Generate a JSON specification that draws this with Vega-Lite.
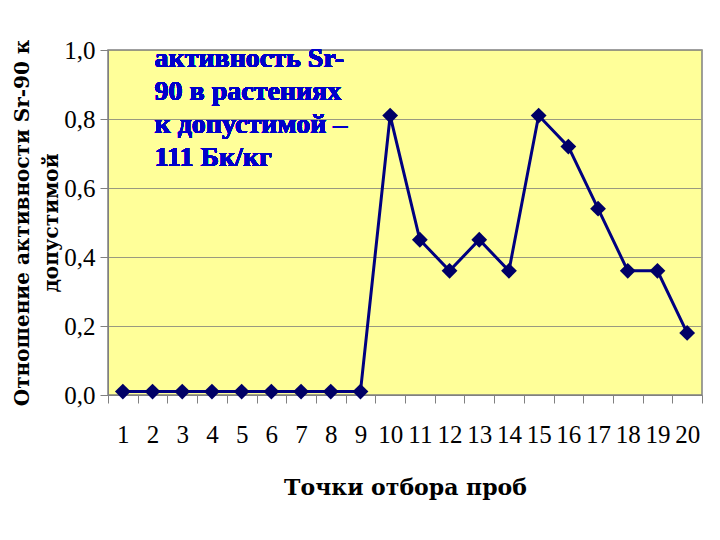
{
  "$schema": "https://vega.github.io/schema/vega-lite/v6.json",
  "width": 594,
  "height": 345,
  "autosize": "none",
  "padding": {"left": 108, "top": 50, "right": 18, "bottom": 145},
  "background": "white",
  "config": {
    "view": {"fill": "#FFFF99", "stroke": "#808080", "strokeWidth": 1.5},
    "font": "Liberation Serif"
  },
  "data": {
    "values": [
      {"point": 1, "ratio": 0.01},
      {"point": 2, "ratio": 0.01},
      {"point": 3, "ratio": 0.01},
      {"point": 4, "ratio": 0.01},
      {"point": 5, "ratio": 0.01},
      {"point": 6, "ratio": 0.01},
      {"point": 7, "ratio": 0.01},
      {"point": 8, "ratio": 0.01},
      {"point": 9, "ratio": 0.01},
      {"point": 10, "ratio": 0.81},
      {"point": 11, "ratio": 0.45},
      {"point": 12, "ratio": 0.36},
      {"point": 13, "ratio": 0.45},
      {"point": 14, "ratio": 0.36},
      {"point": 15, "ratio": 0.81},
      {"point": 16, "ratio": 0.72},
      {"point": 17, "ratio": 0.54},
      {"point": 18, "ratio": 0.36},
      {"point": 19, "ratio": 0.36},
      {"point": 20, "ratio": 0.18}
    ]
  },
  "encoding": {
    "x": {
      "field": "point",
      "type": "ordinal",
      "scale": {"type": "band", "paddingInner": 0, "paddingOuter": 0},
      "axis": {
        "title": "Точки отбора проб",
        "titleFont": "DejaVu Serif",
        "titleFontSize": 22,
        "titleFontWeight": "bold",
        "titleColor": "black",
        "titlePadding": 30,
        "labelAngle": 0,
        "labelFont": "Liberation Serif",
        "labelFontSize": 25,
        "labelColor": "black",
        "labelPadding": 19,
        "tickBand": "extent",
        "tickSize": 8,
        "tickColor": "#808080",
        "domainColor": "#808080",
        "grid": false
      }
    },
    "y": {
      "field": "ratio",
      "type": "quantitative",
      "scale": {"domain": [0, 1], "nice": false},
      "axis": {
        "title": ["Отношение активности Sr-90 к", "допустимой"],
        "titleFont": "DejaVu Serif",
        "titleFontSize": 20,
        "titleFontWeight": "bold",
        "titleColor": "black",
        "titleLineHeight": 29,
        "titlePadding": 2,
        "values": [0, 0.2, 0.4, 0.6, 0.8, 1],
        "labelExpr": "replace(format(datum.value, '.1f'), '.', ',')",
        "labelFont": "Liberation Serif",
        "labelFontSize": 25,
        "labelColor": "black",
        "labelPadding": 5,
        "tickSize": 8,
        "tickColor": "#808080",
        "domainColor": "#808080",
        "grid": true,
        "gridColor": "#9A9A80",
        "gridWidth": 1
      }
    }
  },
  "layer": [
    {
      "mark": {"type": "line", "color": "#000080", "strokeWidth": 3}
    },
    {
      "mark": {"type": "point", "shape": "diamond", "filled": true, "size": 250, "color": "#000066", "opacity": 1}
    },
    {
      "mark": {
        "type": "text",
        "align": "left",
        "baseline": "top",
        "font": "Liberation Serif",
        "fontSize": 28,
        "fontWeight": "bold",
        "color": "#0000CC",
        "lineHeight": 33,
        "dx": 2,
        "dy": -5
      },
      "encoding": {
        "x": {"datum": 2},
        "y": {"datum": 1.0},
        "text": {"value": ["активность Sr-", "90 в растениях", "к допустимой –", "111 Бк/кг"]}
      }
    }
  ]
}
